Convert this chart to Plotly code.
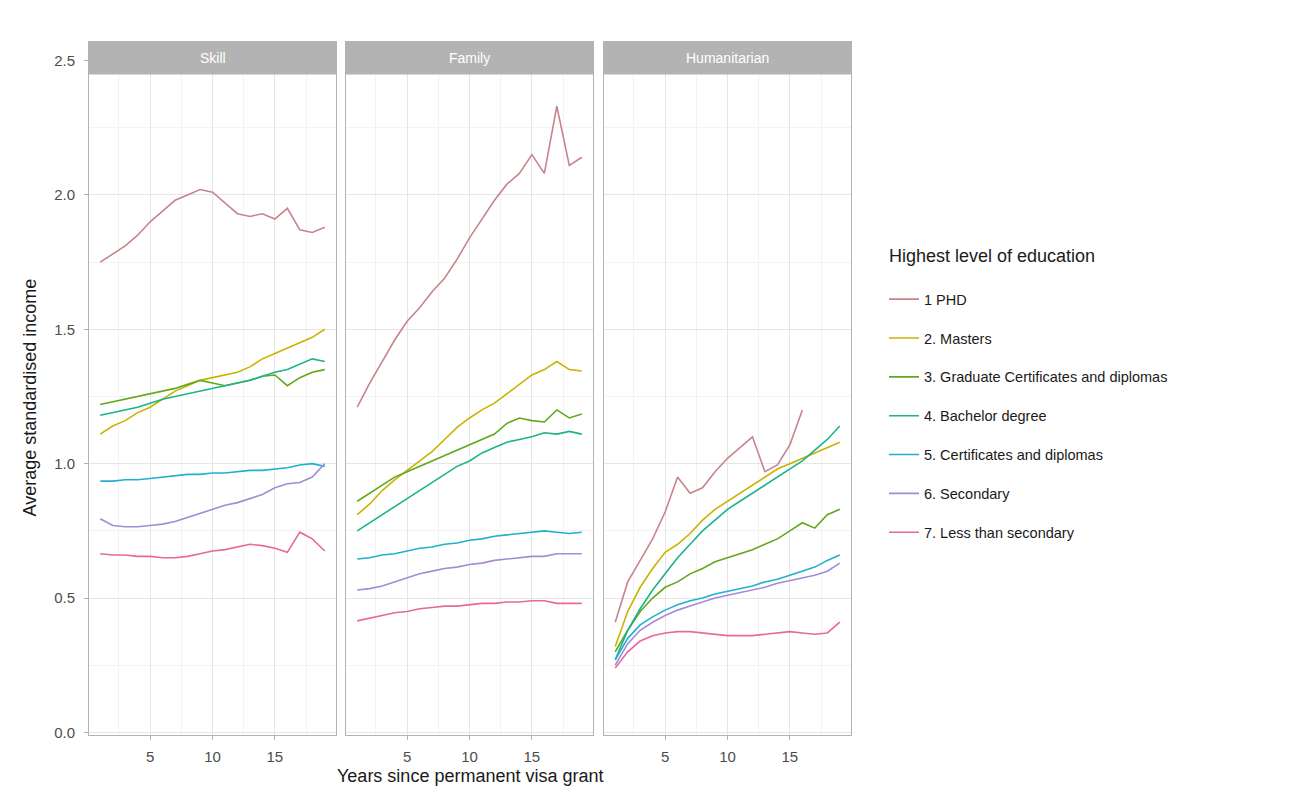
import plotly.graph_objects as go

W, H = 1292, 796

panels = ["Skill", "Family", "Humanitarian"]
levels = [
    "1 PHD",
    "2. Masters",
    "3. Graduate Certificates and diplomas",
    "4. Bachelor degree",
    "5. Certificates and diplomas",
    "6. Secondary",
    "7. Less than secondary",
]
colors = ["#c9838b", "#c8b400", "#62a81c", "#1db38a", "#20b0d0", "#a58ad8", "#e6699a"]

years = list(range(1, 20))
years_hum_phd = list(range(1, 17))

# Average standardised income by visa stream and education level
skill_phd = [1.75, 1.78, 1.81, 1.85, 1.90, 1.94, 1.98, 2.00, 2.02, 2.01, 1.97, 1.93, 1.92, 1.93, 1.91, 1.95, 1.87, 1.86, 1.88]
skill_masters = [1.11, 1.14, 1.16, 1.19, 1.21, 1.24, 1.27, 1.29, 1.31, 1.32, 1.33, 1.34, 1.36, 1.39, 1.41, 1.43, 1.45, 1.47, 1.50]
skill_gradcert = [1.22, 1.23, 1.24, 1.25, 1.26, 1.27, 1.28, 1.295, 1.31, 1.30, 1.29, 1.30, 1.31, 1.325, 1.33, 1.29, 1.32, 1.34, 1.35]
skill_bachelor = [1.18, 1.19, 1.20, 1.21, 1.225, 1.24, 1.25, 1.26, 1.27, 1.28, 1.29, 1.30, 1.31, 1.325, 1.34, 1.35, 1.37, 1.39, 1.38]
skill_certs = [0.935, 0.935, 0.94, 0.94, 0.945, 0.95, 0.955, 0.96, 0.96, 0.965, 0.965, 0.97, 0.975, 0.975, 0.98, 0.985, 0.995, 1.0, 0.99]
skill_secondary = [0.795, 0.77, 0.765, 0.765, 0.77, 0.775, 0.785, 0.80, 0.815, 0.83, 0.845, 0.855, 0.87, 0.885, 0.91, 0.925, 0.93, 0.95, 1.0]
skill_less = [0.665, 0.66, 0.66, 0.655, 0.655, 0.65, 0.65, 0.655, 0.665, 0.675, 0.68, 0.69, 0.70, 0.695, 0.685, 0.67, 0.745, 0.72, 0.675]

family_phd = [1.21, 1.30, 1.38, 1.46, 1.53, 1.58, 1.64, 1.69, 1.76, 1.84, 1.91, 1.98, 2.04, 2.08, 2.15, 2.08, 2.33, 2.11, 2.14]
family_masters = [0.81, 0.85, 0.90, 0.94, 0.975, 1.01, 1.045, 1.09, 1.135, 1.17, 1.20, 1.225, 1.26, 1.295, 1.33, 1.35, 1.38, 1.35, 1.345]
family_gradcert = [0.86, 0.89, 0.92, 0.95, 0.97, 0.99, 1.01, 1.03, 1.05, 1.07, 1.09, 1.11, 1.15, 1.17, 1.16, 1.155, 1.20, 1.17, 1.185]
family_bachelor = [0.75, 0.78, 0.81, 0.84, 0.87, 0.90, 0.93, 0.96, 0.99, 1.01, 1.04, 1.06, 1.08, 1.09, 1.10, 1.115, 1.11, 1.12, 1.11]
family_certs = [0.645, 0.65, 0.66, 0.665, 0.675, 0.685, 0.69, 0.70, 0.705, 0.715, 0.72, 0.73, 0.735, 0.74, 0.745, 0.75, 0.745, 0.74, 0.745]
family_secondary = [0.53, 0.535, 0.545, 0.56, 0.575, 0.59, 0.60, 0.61, 0.615, 0.625, 0.63, 0.64, 0.645, 0.65, 0.655, 0.655, 0.665, 0.665, 0.665]
family_less = [0.415, 0.425, 0.435, 0.445, 0.45, 0.46, 0.465, 0.47, 0.47, 0.475, 0.48, 0.48, 0.485, 0.485, 0.49, 0.49, 0.48, 0.48, 0.48]

hum_phd = [0.41, 0.56, 0.64, 0.72, 0.82, 0.95, 0.89, 0.91, 0.97, 1.02, 1.06, 1.10, 0.97, 0.995, 1.07, 1.20]
hum_masters = [0.32, 0.45, 0.54, 0.61, 0.67, 0.70, 0.74, 0.79, 0.83, 0.86, 0.89, 0.92, 0.95, 0.98, 1.00, 1.02, 1.04, 1.06, 1.08]
hum_gradcert = [0.30, 0.38, 0.45, 0.50, 0.54, 0.56, 0.59, 0.61, 0.635, 0.65, 0.665, 0.68, 0.70, 0.72, 0.75, 0.78, 0.76, 0.81, 0.83]
hum_bachelor = [0.27, 0.38, 0.46, 0.53, 0.59, 0.65, 0.70, 0.75, 0.79, 0.83, 0.86, 0.89, 0.92, 0.95, 0.98, 1.01, 1.05, 1.09, 1.14]
hum_certs = [0.27, 0.35, 0.40, 0.43, 0.455, 0.475, 0.49, 0.50, 0.515, 0.525, 0.535, 0.545, 0.56, 0.57, 0.585, 0.60, 0.615, 0.64, 0.66]
hum_secondary = [0.25, 0.33, 0.38, 0.41, 0.435, 0.455, 0.47, 0.485, 0.50, 0.51, 0.52, 0.53, 0.54, 0.555, 0.565, 0.575, 0.585, 0.60, 0.63]
hum_less = [0.24, 0.30, 0.34, 0.36, 0.37, 0.375, 0.375, 0.37, 0.365, 0.36, 0.36, 0.36, 0.365, 0.37, 0.375, 0.37, 0.365, 0.37, 0.41]

series = {
    "Skill": [skill_phd, skill_masters, skill_gradcert, skill_bachelor, skill_certs, skill_secondary, skill_less],
    "Family": [family_phd, family_masters, family_gradcert, family_bachelor, family_certs, family_secondary, family_less],
    "Humanitarian": [hum_phd, hum_masters, hum_gradcert, hum_bachelor, hum_certs, hum_secondary, hum_less],
}

FONT = "Liberation Sans, Arial, sans-serif"

# panel geometry in pixels
panel_left = [89, 346, 604]
panel_w = 247
plot_top, plot_bot = 42, 740
strip_bot = 75

def px_x(p):
    return p / W

def px_y(p):
    return 1 - p / H

fig = go.Figure()

for pi, name in enumerate(panels):
    xa = "x" if pi == 0 else f"x{pi + 1}"
    ya = "y" if pi == 0 else f"y{pi + 1}"
    for li, vals in enumerate(series[name]):
        xs = years_hum_phd if (name == "Humanitarian" and li == 0) else years
        fig.add_trace(go.Scatter(
            x=xs, y=vals, mode="lines",
            line=dict(color=colors[li], width=1.6),
            name=levels[li], legendgroup=levels[li],
            showlegend=(pi == 0),
            xaxis=xa, yaxis=ya,
        ))

axis_common = dict(
    showgrid=True, gridcolor="#e6e6e6", gridwidth=1,
    showline=True, linecolor="#b3b3b3", linewidth=1, mirror=True,
    zeroline=False,
    ticks="outside", ticklen=4, tickcolor="#b3b3b3",
    tickfont=dict(family=FONT, size=15, color="#4d4d4d"),
)

layout = dict(
    width=W, height=H,
    margin=dict(l=0, r=0, t=0, b=0),
    paper_bgcolor="white", plot_bgcolor="white",
    font=dict(family=FONT),
    showlegend=True,
)

for pi in range(3):
    sx = "" if pi == 0 else str(pi + 1)
    layout[f"xaxis{sx}"] = dict(
        axis_common,
        domain=[px_x(panel_left[pi]), px_x(panel_left[pi] + panel_w)],
        range=[0.1, 19.9],
        tickvals=[5, 10, 15],
        ticklabelstandoff=4,
        minor=dict(showgrid=True, gridcolor="#f3f3f3", gridwidth=0.6, tickvals=[2.5, 7.5, 12.5, 17.5]),
        anchor="y" if pi == 0 else f"y{pi + 1}",
    )
    layout[f"yaxis{sx}"] = dict(
        axis_common,
        domain=[px_y(plot_bot), px_y(plot_top)],
        range=[-0.011, 2.57],
        tickvals=[0, 0.5, 1.0, 1.5, 2.0, 2.5],
        ticktext=["0.0", "0.5", "1.0", "1.5", "2.0", "2.5"],
        ticklabelstandoff=6,
        minor=dict(showgrid=True, gridcolor="#f3f3f3", gridwidth=0.6, tickvals=[0.25, 0.75, 1.25, 1.75, 2.25]),
        showticklabels=(pi == 0),
        ticks="outside" if pi == 0 else "",
        anchor="x" if pi == 0 else f"x{pi + 1}",
    )

fig.update_layout(**layout)

# facet strips
shapes = []
annotations = []
for pi, name in enumerate(panels):
    x0 = px_x(panel_left[pi])
    x1 = px_x(panel_left[pi] + panel_w)
    shapes.append(dict(
        type="rect", xref="paper", yref="paper",
        x0=x0, x1=x1, y0=px_y(strip_bot), y1=px_y(plot_top),
        fillcolor="#b3b3b3", line=dict(width=0), layer="above",
    ))
    annotations.append(dict(
        x=(x0 + x1) / 2, y=px_y((plot_top + strip_bot) / 2),
        xref="paper", yref="paper", text=name, showarrow=False,
        font=dict(family=FONT, size=14, color="white"),
        xanchor="center", yanchor="middle",
    ))

annotations.append(dict(
    x=px_x((panel_left[0] + panel_left[2] + panel_w) / 2), y=px_y(781),
    xref="paper", yref="paper", text="Years since permanent visa grant",
    showarrow=False, font=dict(family=FONT, size=18, color="#1a1a1a"),
    xanchor="center", yanchor="middle",
))
annotations.append(dict(
    x=px_x(30), y=px_y(400),
    xref="paper", yref="paper", text="Average standardised income",
    showarrow=False, textangle=-90, font=dict(family=FONT, size=18, color="#1a1a1a"),
    xanchor="center", yanchor="middle",
))
# legend heading
annotations.append(dict(
    x=px_x(887), y=px_y(258),
    xref="paper", yref="paper", text="Highest level of education",
    showarrow=False, font=dict(family=FONT, size=18, color="#1a1a1a"),
    xanchor="left", yanchor="middle",
))

fig.update_layout(
    shapes=shapes, annotations=annotations,
    legend=dict(
        x=px_x(884), y=px_y(285), xanchor="left", yanchor="top",
        font=dict(family=FONT, size=14.5, color="#1a1a1a"),
        tracegroupgap=17, itemwidth=30,
        bgcolor="rgba(0,0,0,0)",
    ),
)

fig.write_html("out.html")
